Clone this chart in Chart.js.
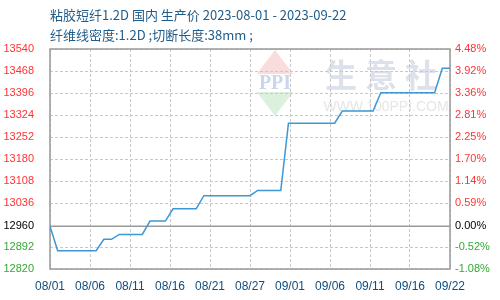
<!DOCTYPE html>
<html>
<head>
<meta charset="utf-8">
<script src="https://cdn.jsdelivr.net/npm/chart.js@4"></script>
<style>
  body { margin: 0; background: #fff; }
  #wrap { position: relative; width: 500px; height: 300px; }
  .ttl { position: absolute; left: 50px; font: 13px "Noto Sans CJK SC", sans-serif; color: #1f5c8a; white-space: nowrap; line-height: 16px; }
</style>
</head>
<body>
<div id="wrap">
  <canvas id="c" width="500" height="300"></canvas>
  <div class="ttl" style="top:7px">粘胶短纤1.2D 国内 生产价 2023-08-01 - 2023-09-22</div>
  <div class="ttl" style="top:27px">纤维线密度:1.2D ;切断长度:38mm ;</div>
</div>
<script>
const dates = [
  "08/01","08/02","08/03","08/04","08/05","08/06","08/07","08/08","08/09","08/10",
  "08/11","08/12","08/13","08/14","08/15","08/16","08/17","08/18","08/19","08/20",
  "08/21","08/22","08/23","08/24","08/25","08/26","08/27","08/28","08/29","08/30",
  "08/31","09/01","09/02","09/03","09/04","09/05","09/06","09/07","09/08","09/09",
  "09/10","09/11","09/12","09/13","09/14","09/15","09/16","09/17","09/18","09/19",
  "09/20","09/21","09/22"
];
const prices = [
  12960,12880,12880,12880,12880,12880,12880,12917,12917,12933,
  12933,12933,12933,12977,12977,12977,13017,13017,13017,13017,
  13060,13060,13060,13060,13060,13060,13060,13077,13077,13077,
  13077,13297,13297,13297,13297,13297,13297,13297,13337,13337,
  13337,13337,13337,13397,13397,13397,13397,13397,13397,13397,
  13397,13477,13477
];
const base = 12960;
const yTicks = [12820, 12892, 12960, 13036, 13108, 13180, 13252, 13324, 13396, 13468, 13540];
const pctTicks = ["-1.08%", "-0.52%", "0.00%", "0.59%", "1.14%", "1.70%", "2.25%", "2.81%", "3.36%", "3.92%", "4.48%"];

const RED = "#ff3333", GREEN = "#33aa33";
const tickColor = ctx => ctx.tick.value > base ? RED : (ctx.tick.value < base ? GREEN : "#000");
const setYTicks = scale => { scale.ticks = yTicks.map(v => ({ value: v })); };

// watermark + frame + base line
const deco = {
  id: "deco",
  beforeDraw(chart) {
    const c = chart.ctx, a = chart.chartArea;
    c.save();
    const cx = a.left + 225, cy = a.top + 34;
    c.fillStyle = "#f9dcdc";
    c.beginPath(); c.moveTo(cx - 25, cy); c.lineTo(cx, cy - 33); c.lineTo(cx + 25, cy); c.closePath(); c.fill();
    c.fillStyle = "#dcf0de";
    c.beginPath(); c.moveTo(cx - 25, cy); c.lineTo(cx, cy + 33); c.lineTo(cx + 25, cy); c.closePath(); c.fill();
    c.fillStyle = "#fff";
    c.fillRect(cx - 30, cy - 9, 60, 18);
    c.fillStyle = "#ccd6ea";
    c.font = "bold 20px 'Liberation Serif'";
    c.textAlign = "center"; c.textBaseline = "middle";
    c.fillText("PPI", cx, cy + 1);
    c.fillStyle = "#dde1ec";
    c.font = "bold 32px 'Noto Sans CJK SC'";
    ["生", "意", "社"].forEach((ch, i) => c.fillText(ch, a.left + 291 + i * 40, a.top + 26));
    c.fillStyle = "#e6e6e6";
    c.font = "14px 'Liberation Sans'";
    c.fillText("WWW.100PPI.COM", a.left + 336, a.top + 58);
    c.restore();
  },
  beforeDatasetsDraw(chart) {
    const c = chart.ctx, a = chart.chartArea;
    const y0 = chart.scales.y.getPixelForValue(base);
    c.save();
    c.strokeStyle = "#999";
    c.lineWidth = 1.5;
    c.strokeRect(a.left, a.top, a.right - a.left, a.bottom - a.top);
    c.beginPath(); c.moveTo(a.left, y0); c.lineTo(a.right, y0); c.stroke();
    c.restore();
  }
};

new Chart(document.getElementById("c"), {
  type: "line",
  data: {
    datasets: [{
      data: prices.map((p, i) => ({ x: i, y: p })),
      borderColor: "#3d97d6",
      borderWidth: 1.5,
      pointRadius: 0,
      tension: 0
    }]
  },
  options: {
    responsive: false,
    animation: false,
    layout: { padding: { top: 49 } },
    plugins: { legend: { display: false }, tooltip: { enabled: false } },
    scales: {
      x: {
        type: "linear",
        min: 0,
        max: dates.length - 1,
        afterBuildTicks: s => { s.ticks = Array.from({ length: 11 }, (_, k) => ({ value: s.min + (s.max - s.min) * k / 10 })); },
        afterFit: s => { s.height = 31; },
        ticks: {
          autoSkip: false, maxRotation: 0, padding: 10,
          color: "#0e4d80",
          font: { family: "Liberation Sans", size: 12 },
          callback: v => dates[Math.floor(v + 1e-6)]
        },
        grid: { color: "#c8c8c8", drawTicks: false },
        border: { display: false, dash: [3, 2] }
      },
      y: {
        min: 12820, max: 13540,
        afterBuildTicks: setYTicks,
        afterFit: s => { s.width = 50; },
        ticks: {
          color: tickColor, padding: 16, font: { family: "Liberation Sans", size: 11 },
          callback: v => String(v)
        },
        grid: { color: "#c8c8c8", drawTicks: false },
        border: { display: false, dash: [3, 2] }
      },
      y2: {
        position: "right",
        min: 12820, max: 13540,
        afterBuildTicks: setYTicks,
        afterFit: s => { s.width = 50; },
        ticks: {
          color: tickColor, padding: 5, font: { family: "Liberation Sans", size: 11 },
          callback: (v, i) => pctTicks[i]
        },
        grid: { display: false, drawTicks: false },
        border: { display: false }
      }
    }
  },
  plugins: [deco]
});
</script>
</body>
</html>
